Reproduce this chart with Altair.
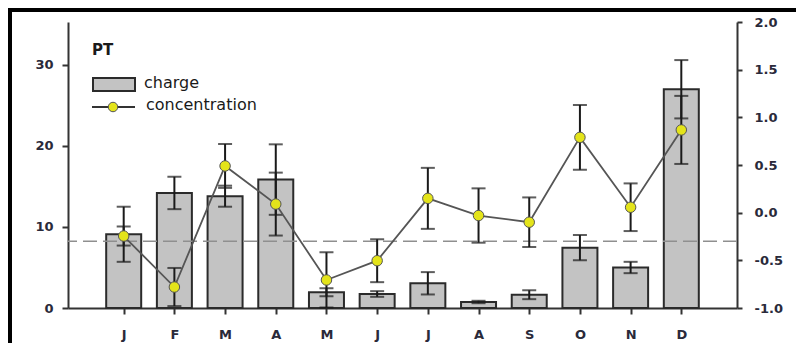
import json
import altair as alt
import pandas as pd

# ---- data ----
months = ["J", "F", "M", "A", "M", "J", "J", "A", "S", "O", "N", "D"]
month_pos = [1, 2, 3, 4, 5, 6, 7, 8, 9, 10, 11, 12]
charge = [9.1, 14.2, 13.8, 15.85, 1.94, 1.73, 3.05, 0.74, 1.64, 7.45, 5.0, 27.0]
charge_err = [3.4, 2.0, 1.3, 4.35, 0.5, 0.35, 1.38, 0.15, 0.55, 1.55, 0.7, 3.6]
conc = [-0.245, -0.78, 0.49, 0.09, -0.706, -0.504, 0.15, -0.03, -0.10, 0.79, 0.057, 0.868]
conc_err = [0.10, 0.20, 0.23, 0.33, 0.29, 0.225, 0.32, 0.285, 0.26, 0.34, 0.25, 0.357]
reference_level = -0.3
left_ticks = [0, 10, 20, 30]
right_ticks = [-1.0, -0.5, 0.0, 0.5, 1.0, 1.5, 2.0]

df = pd.DataFrame({
    "pos": month_pos,
    "month": months,
    "charge": charge,
    "charge_lo": [c - e for c, e in zip(charge, charge_err)],
    "charge_hi": [c + e for c, e in zip(charge, charge_err)],
    "conc": conc,
    "conc_lo": [c - e for c, e in zip(conc, conc_err)],
    "conc_hi": [c + e for c, e in zip(conc, conc_err)],
})

FONT = "DejaVu Sans"
LBL = "#2a2a3a"
label_expr = json.dumps(months) + "[datum.value - 1]"

x_enc = alt.X(
    "pos:Q",
    scale=alt.Scale(domain=[0, 13], nice=False, zero=False),
    axis=alt.Axis(
        values=month_pos, labelExpr=label_expr, title=None, grid=False,
        domainColor="#333", domainWidth=2, tickColor="#333", tickWidth=2,
        tickSize=6, labelPadding=14, labelFont=FONT, labelFontWeight="bold",
        labelFontSize=13, labelColor=LBL,
    ),
)

left_scale = alt.Scale(domain=[0, 35.3], nice=False, zero=False)
right_scale = alt.Scale(domain=[-1, 2], nice=False, zero=False)

left_axis = alt.Axis(
    values=left_ticks, title=None, grid=False, orient="left",
    domainColor="#333", domainWidth=2, tickColor="#333", tickWidth=2,
    tickSize=6, labelPadding=9, labelFont=FONT, labelFontWeight="bold",
    labelFontSize=13, labelColor=LBL,
)
right_axis = alt.Axis(
    values=right_ticks, title=None, grid=False, orient="right",
    labelExpr="replace(format(datum.value, '.1f'), '\u2212', '-')",
    domainColor="#333", domainWidth=2, tickColor="#333", tickWidth=2,
    tickSize=5, labelPadding=12, labelFont=FONT, labelFontWeight="bold",
    labelFontSize=13, labelColor=LBL,
)

base = alt.Chart(df)

bars = base.mark_bar(size=35, fill="#c3c3c3", stroke="#2b2b2b", strokeWidth=2).encode(
    x=x_enc, y=alt.Y("charge:Q", scale=left_scale, axis=left_axis)
)
charge_rules = base.mark_rule(color="#1a1a1a", strokeWidth=2).encode(
    x=x_enc, y=alt.Y("charge_lo:Q", scale=left_scale, axis=left_axis), y2="charge_hi:Q"
)
charge_cap_lo = base.mark_tick(orient="horizontal", size=14, thickness=2, color="#1a1a1a").encode(
    x=x_enc, y=alt.Y("charge_lo:Q", scale=left_scale, axis=left_axis)
)
charge_cap_hi = base.mark_tick(orient="horizontal", size=14, thickness=2, color="#1a1a1a").encode(
    x=x_enc, y=alt.Y("charge_hi:Q", scale=left_scale, axis=left_axis)
)
left_group = alt.layer(bars, charge_rules, charge_cap_lo, charge_cap_hi)

ref_rule = alt.Chart(pd.DataFrame({"lvl": [reference_level]})).mark_rule(
    color="#8f8f8f", strokeWidth=1.6, strokeDash=[14, 6]
).encode(y=alt.Y("lvl:Q", scale=right_scale, axis=right_axis))

line = base.mark_line(color="#555555", strokeWidth=1.8).encode(
    x=x_enc, y=alt.Y("conc:Q", scale=right_scale, axis=right_axis)
)
conc_rules = base.mark_rule(color="#1a1a1a", strokeWidth=2).encode(
    x=x_enc, y=alt.Y("conc_lo:Q", scale=right_scale, axis=right_axis), y2="conc_hi:Q"
)
conc_cap_lo = base.mark_tick(orient="horizontal", size=14, thickness=2, color="#1a1a1a").encode(
    x=x_enc, y=alt.Y("conc_lo:Q", scale=right_scale, axis=right_axis)
)
conc_cap_hi = base.mark_tick(orient="horizontal", size=14, thickness=2, color="#1a1a1a").encode(
    x=x_enc, y=alt.Y("conc_hi:Q", scale=right_scale, axis=right_axis)
)
points = base.mark_point(
    filled=True, shape="circle", size=110, fill="#e4e41a", stroke="#555555",
    strokeWidth=1, opacity=1
).encode(x=x_enc, y=alt.Y("conc:Q", scale=right_scale, axis=right_axis))

# ---- manual legend ----
one = alt.Chart(pd.DataFrame({"a": [0]}))
leg_title = one.mark_text(text="PT", font=FONT, fontWeight="bold", fontSize=15,
                          align="left", baseline="middle", color="#1a1a1a").encode(
    x=alt.value(24), y=alt.value(28))
leg_rect = one.mark_rect(fill="#c3c3c3", stroke="#2b2b2b", strokeWidth=2).encode(
    x=alt.value(25), x2=alt.value(67), y=alt.value(56), y2=alt.value(69))
leg_charge = one.mark_text(text="charge", font=FONT, fontSize=16, align="left",
                           baseline="middle", color="#1a1a1a").encode(
    x=alt.value(76), y=alt.value(61))
leg_line = one.mark_rule(color="#333333", strokeWidth=2).encode(
    x=alt.value(24), x2=alt.value(67), y=alt.value(85))
leg_point = one.mark_point(filled=True, shape="circle", size=90, fill="#e4e41a",
                           stroke="#555555", strokeWidth=1, opacity=1).encode(
    x=alt.value(45), y=alt.value(85))
leg_conc = one.mark_text(text="concentration", font=FONT, fontSize=16, align="left",
                         baseline="middle", color="#1a1a1a").encode(
    x=alt.value(78), y=alt.value(83))

# ---- picture frame (top and left black border) ----
frame_top = one.mark_rule(color="#000000", strokeWidth=4).encode(
    x=alt.value(-60), x2=alt.value(730), y=alt.value(-12))
frame_left = one.mark_rule(color="#000000", strokeWidth=4).encode(
    x=alt.value(-58), y=alt.value(-14), y2=alt.value(325))

right_group = alt.layer(
    ref_rule, line, conc_rules, conc_cap_lo, conc_cap_hi, points,
    leg_title, leg_rect, leg_charge, leg_line, leg_point, leg_conc,
    frame_top, frame_left,
)

chart = alt.layer(left_group, right_group).resolve_scale(y="independent").properties(
    width=669, height=286,
    padding={"left": 60, "top": 14, "right": 59, "bottom": 35},
    autosize=alt.AutoSizeParams(type="none"),
    background="white",
).configure_view(stroke=None)

chart.save("out.html", embed_options={"renderer": "svg", "actions": False})
